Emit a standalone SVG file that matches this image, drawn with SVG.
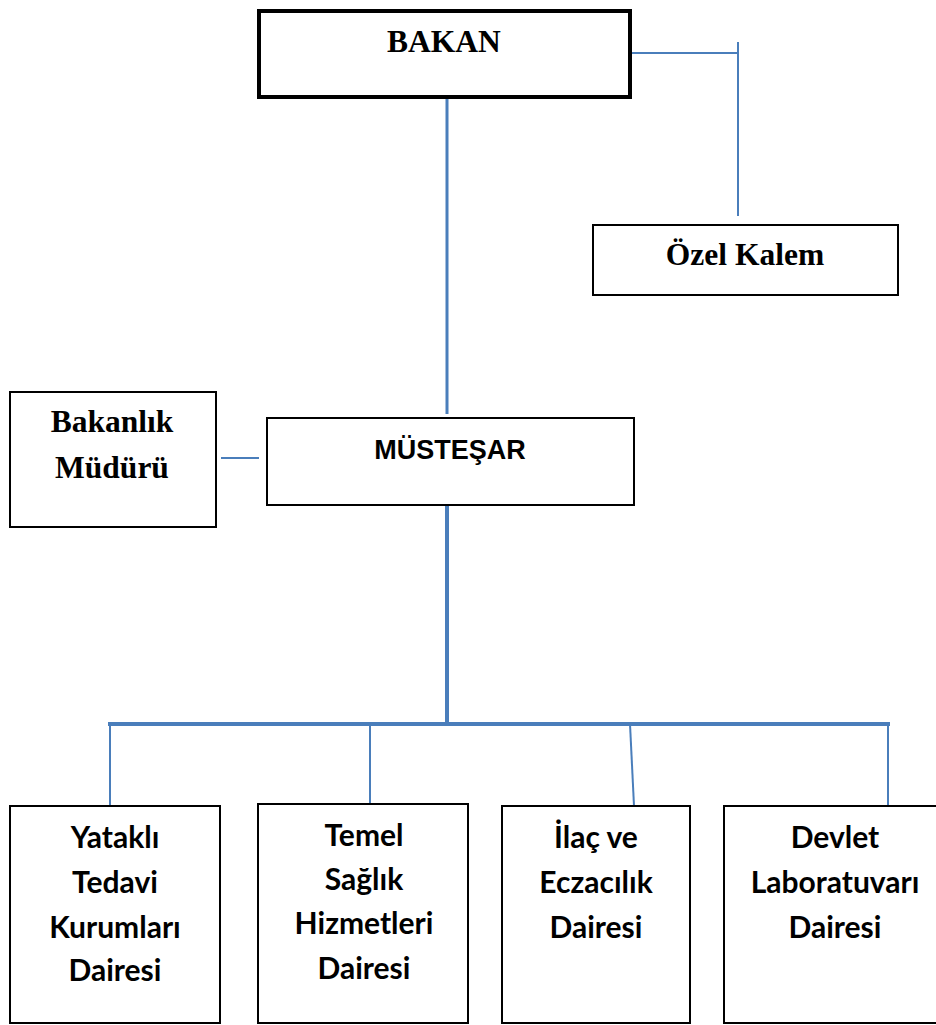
<svg xmlns="http://www.w3.org/2000/svg" width="936" height="1025" viewBox="0 0 936 1025">
<style>
.box{fill:#fff;stroke:#000;stroke-width:2}
.thick{stroke-width:4}
.ser{font-family:"Liberation Serif","Times New Roman",serif;font-weight:bold;font-size:31.5px;text-anchor:middle;fill:#000}
.ar{font-family:"Liberation Sans",Arial,sans-serif;font-weight:bold;font-size:27px;text-anchor:middle;fill:#000}
.cal{font-family:Lato,"Open Sans",sans-serif;font-weight:bold;font-size:30px;text-anchor:middle;fill:#000}
.ln{stroke:#4A7EBB;fill:none}
</style>
<g id="connectors">
<line class="ln" x1="447" y1="98" x2="447" y2="414" stroke-width="3"/>
<line class="ln" x1="631" y1="53" x2="739" y2="53" stroke-width="2"/>
<line class="ln" x1="738" y1="42" x2="738" y2="216" stroke-width="2"/>
<line class="ln" x1="221" y1="458" x2="259" y2="458" stroke-width="2"/>
<line class="ln" x1="447" y1="503" x2="447" y2="725" stroke-width="4"/>
<line class="ln" x1="108" y1="724" x2="890" y2="724" stroke-width="4"/>
<line class="ln" x1="110" y1="724" x2="110" y2="806" stroke-width="2"/>
<line class="ln" x1="370" y1="724" x2="370" y2="804" stroke-width="2"/>
<line class="ln" x1="630" y1="724" x2="634" y2="806" stroke-width="2"/>
<line class="ln" x1="888" y1="724" x2="888" y2="805" stroke-width="2"/>
</g>
<g id="bakan">
<rect class="box thick" x="259" y="11" width="371" height="86"/>
<text class="ser" x="444" y="52">BAKAN</text>
</g>
<g id="ozel-kalem">
<rect class="box" x="593" y="225" width="305" height="70"/>
<text class="ser" x="745" y="265">Özel Kalem</text>
</g>
<g id="bakanlik-muduru">
<rect class="box" x="10" y="392" width="206" height="135"/>
<text class="ser" x="112" y="432">Bakanlık</text>
<text class="ser" x="112" y="478">Müdürü</text>
</g>
<g id="mustesar">
<rect class="box" x="267" y="418" width="367" height="87"/>
<text class="ar" x="450" y="459">MÜSTEŞAR</text>
</g>
<g id="yatakli">
<rect class="box" x="10" y="806" width="210" height="217"/>
<text class="cal" x="115" y="848">Yataklı</text>
<text class="cal" x="115" y="893">Tedavi</text>
<text class="cal" x="115" y="938">Kurumları</text>
<text class="cal" x="115" y="981">Dairesi</text>
</g>
<g id="temel">
<rect class="box" x="258" y="804" width="210" height="219"/>
<text class="cal" x="364" y="846">Temel</text>
<text class="cal" x="364" y="890">Sağlık</text>
<text class="cal" x="364" y="934">Hizmetleri</text>
<text class="cal" x="364" y="979">Dairesi</text>
</g>
<g id="ilac">
<rect class="box" x="502" y="806" width="188" height="217"/>
<text class="cal" x="596" y="848">İlaç ve</text>
<text class="cal" x="596" y="893">Eczacılık</text>
<text class="cal" x="596" y="938">Dairesi</text>
</g>
<g id="devlet">
<rect class="box" x="724" y="806" width="220" height="217"/>
<text class="cal" x="835" y="848">Devlet</text>
<text class="cal" x="835" y="893">Laboratuvarı</text>
<text class="cal" x="835" y="938">Dairesi</text>
</g>
</svg>
